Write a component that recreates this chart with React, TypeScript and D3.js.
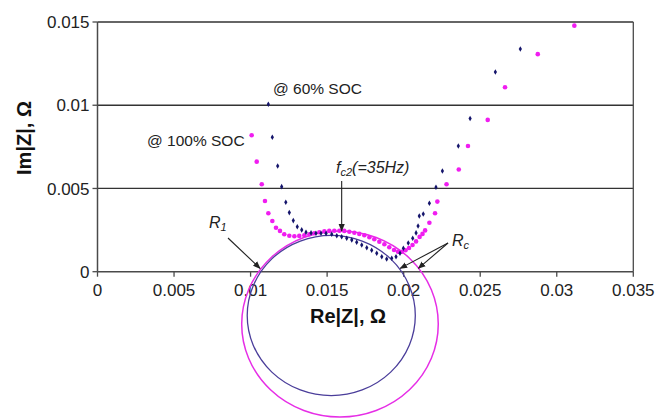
import React from "react";
import * as d3 from "d3";

// ---- data ----
const xTicks = [0, 0.005, 0.01, 0.015, 0.02, 0.025, 0.03, 0.035];
const xTickLabels = ["0", "0.005", "0.01", "0.015", "0.02", "0.025", "0.03", "0.035"];
const yTicks = [0, 0.005, 0.01, 0.015];
const yTickLabels = ["0", "0.005", "0.01", "0.015"];

// 60% SOC (navy diamonds): [Re, Im]
const soc60: [number, number][] = [
  [0.01116, 0.01006], [0.01142, 0.00808], [0.01177, 0.00635], [0.01203, 0.00511],
  [0.0123, 0.00417], [0.01253, 0.00355], [0.01279, 0.00307], [0.01305, 0.0027],
  [0.01334, 0.00251], [0.01362, 0.00237], [0.01395, 0.00233], [0.01427, 0.00231],
  [0.0146, 0.00231], [0.01493, 0.0023], [0.0153, 0.00225], [0.01563, 0.00216],
  [0.01595, 0.0021], [0.01628, 0.00201], [0.01661, 0.00191], [0.01693, 0.00177],
  [0.01726, 0.0016], [0.01759, 0.00144], [0.01791, 0.00129], [0.01824, 0.00111],
  [0.01857, 0.0009], [0.01889, 0.00076], [0.01922, 0.00081], [0.0195, 0.0009],
  [0.01976, 0.00111], [0.01998, 0.00141], [0.0203, 0.00172], [0.02059, 0.00201],
  [0.02081, 0.00233], [0.02094, 0.00275], [0.02102, 0.00335], [0.02128, 0.00347],
  [0.02168, 0.00411], [0.02211, 0.00507], [0.02253, 0.00605], [0.02357, 0.00755],
  [0.02434, 0.0092], [0.02599, 0.012], [0.02762, 0.01338],
];

// 100% SOC (magenta dots): [Re, Im]
const soc100: [number, number][] = [
  [0.01007, 0.0082], [0.0104, 0.00661], [0.01073, 0.00525], [0.01094, 0.00425],
  [0.01116, 0.00351], [0.01142, 0.00305], [0.01166, 0.00264], [0.01192, 0.00245],
  [0.0122, 0.00225], [0.01253, 0.00216], [0.01286, 0.00213], [0.01318, 0.00215],
  [0.01351, 0.00219], [0.01384, 0.00225], [0.01416, 0.00231], [0.01449, 0.00237],
  [0.01482, 0.00242], [0.01514, 0.00245], [0.01547, 0.00246], [0.0158, 0.00246],
  [0.01612, 0.00245], [0.01645, 0.0024], [0.01678, 0.00234], [0.0171, 0.00227],
  [0.01743, 0.00219], [0.01776, 0.00207], [0.01808, 0.00195], [0.01841, 0.0018],
  [0.01874, 0.00165], [0.01906, 0.00147], [0.01937, 0.0013], [0.01963, 0.0012],
  [0.01989, 0.0012], [0.02012, 0.00129], [0.02035, 0.00142], [0.02058, 0.0016],
  [0.02081, 0.00182], [0.02104, 0.00209], [0.02123, 0.00227], [0.0214, 0.00248],
  [0.02168, 0.00294], [0.02205, 0.00351], [0.0222, 0.00421], [0.0228, 0.00525],
  [0.0236, 0.00614], [0.0242, 0.00755], [0.02549, 0.00912], [0.02662, 0.01108],
  [0.02876, 0.01307], [0.03115, 0.01478],
];

// fitted circles: centre (Re, Im) and radii along each axis
const circle60 = { cx: 0.01527, cy: -0.00263, rx: 0.00549, ry: 0.00481 };
const circle100 = { cx: 0.01584, cy: -0.00314, rx: 0.00642, ry: 0.00559 };

// annotation anchor points (data coords)
const r1Point: [number, number] = [0.01062, 0.0002];
const fc2Point: [number, number] = [0.01595, 0.00245];
const rcPoints: [number, number][] = [[0.01977, 0.0002], [0.02096, 0.0002]];

const W = 668;
const H = 420;

export default function App() {
  const x = d3.scaleLinear().domain([0, 0.035]).range([97.5, 633.3]);
  const y = d3.scaleLinear().domain([0, 0.015]).range([271.7, 22]);
  const diamond = d3.symbol().type(d3.symbolDiamond).size(9)();
  const font = "Liberation Sans, Arial, sans-serif";
  const axisColor = "#4a4a4a";

  const ell = (c: { cx: number; cy: number; rx: number; ry: number }) => ({
    cx: x(c.cx),
    cy: y(c.cy),
    rx: x(c.cx + c.rx) - x(c.cx),
    ry: y(c.cy) - y(c.cy + c.ry),
  });
  const e60 = ell(circle60);
  const e100 = ell(circle100);

  return (
    <svg
      width={W}
      height={H}
      style={{ position: "absolute", left: 0, top: 0, background: "#fff" }}
      fontFamily={font}
    >
      <defs>
        <marker id="ah" viewBox="0 0 10 10" refX="9" refY="5" markerWidth="7" markerHeight="7" orient="auto-start-reverse">
          <path d="M0,1 L10,5 L0,9 z" fill="#222" />
        </marker>
      </defs>
      <rect width={W} height={H} fill="#fff" />

      {/* gridlines */}
      {yTicks.slice(1).map((t) => (
        <line key={"g" + t} x1={x(0)} x2={x(0.035)} y1={y(t)} y2={y(t)} stroke="#333" strokeWidth={1.3} />
      ))}
      {/* right border */}
      <line x1={x(0.035)} x2={x(0.035)} y1={y(0.015)} y2={y(0)} stroke={axisColor} strokeWidth={1.3} />
      {/* axes */}
      <line x1={x(0)} x2={x(0.035)} y1={y(0)} y2={y(0)} stroke={axisColor} strokeWidth={1.5} />
      <line x1={x(0)} x2={x(0)} y1={y(0.015)} y2={y(0)} stroke={axisColor} strokeWidth={1.5} />

      {/* y ticks */}
      {yTicks.map((t, i) => (
        <g key={"y" + t}>
          <line x1={x(0) - 5} x2={x(0)} y1={y(t)} y2={y(t)} stroke={axisColor} strokeWidth={1.3} />
          <text x={x(0) - 8} y={y(t)} dy="0.36em" textAnchor="end" fontSize={17} fill="#222">
            {yTickLabels[i]}
          </text>
        </g>
      ))}
      {/* x ticks */}
      {xTicks.map((t, i) => (
        <g key={"x" + t}>
          <line x1={x(t)} x2={x(t)} y1={y(0)} y2={y(0) + 5} stroke={axisColor} strokeWidth={1.3} />
          <text x={x(t)} y={y(0) + 24} textAnchor="middle" fontSize={17} fill="#222">
            {xTickLabels[i]}
          </text>
        </g>
      ))}

      {/* axis titles */}
      <text x={348} y={323} textAnchor="middle" fontSize={20} fontWeight="bold" fill="#111">
        Re|Z|, Ω
      </text>
      <text
        transform="translate(31,138) rotate(-90)"
        textAnchor="middle"
        fontSize={20}
        fontWeight="bold"
        fill="#111"
      >
        Im|Z|, Ω
      </text>

      {/* circles */}
      <ellipse {...e100} fill="none" stroke="#e62ee6" strokeWidth={1.5} />
      <ellipse {...e60} fill="none" stroke="#4a3d9a" strokeWidth={1.3} />

      {/* data */}
      {soc100.map((d, i) => (
        <circle key={"m" + i} cx={x(d[0])} cy={y(d[1])} r={2.3} fill="#f01df0" />
      ))}
      {soc60.map((d, i) => (
        <path key={"b" + i} d={diamond} transform={`translate(${x(d[0])},${y(d[1])})`} fill="#14146b" />
      ))}

      {/* labels */}
      <text x={273} y={94} fontSize={15.5} fill="#222">@ 60% SOC</text>
      <text x={147} y={146} fontSize={15.5} fill="#222">@ 100% SOC</text>

      {/* R1 */}
      <text x={209} y={228} fontSize={16} fontStyle="italic" fill="#222">
        R<tspan fontSize={11} dy={3}>1</tspan>
      </text>
      <line x1={228} y1={238} x2={x(r1Point[0])} y2={y(r1Point[1])} stroke="#222" strokeWidth={1.1} markerEnd="url(#ah)" />

      {/* fc2 */}
      <text x={336} y={173} fontSize={16} fontStyle="italic" fill="#222">
        f<tspan fontSize={11} dy={3}>c2</tspan>
        <tspan dy={-3}>(=35Hz)</tspan>
      </text>
      <line x1={x(fc2Point[0])} y1={181} x2={x(fc2Point[0])} y2={y(fc2Point[1])} stroke="#222" strokeWidth={1.1} markerEnd="url(#ah)" />

      {/* Rc */}
      <text x={452} y={246} fontSize={16} fontStyle="italic" fill="#222">
        R<tspan fontSize={11} dy={3}>c</tspan>
      </text>
      {rcPoints.map((p, i) => (
        <line key={"rc" + i} x1={448} y1={243} x2={x(p[0])} y2={y(p[1])} stroke="#222" strokeWidth={1.1} markerEnd="url(#ah)" />
      ))}
    </svg>
  );
}
